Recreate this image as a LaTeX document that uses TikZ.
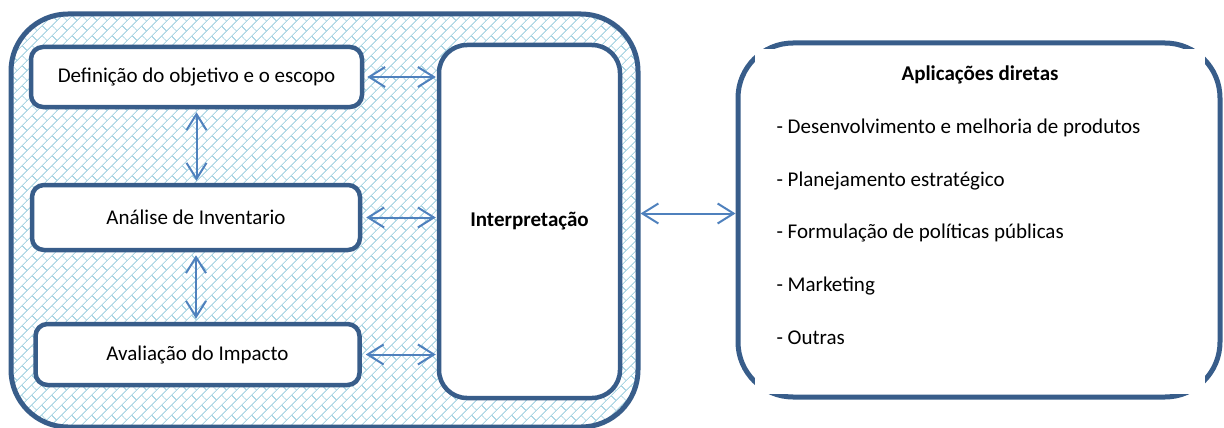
\documentclass[tikz,border=0pt]{standalone}
\usepackage{fontspec}
\setmainfont{Carlito}
\usetikzlibrary{arrows.meta, patterns.meta}

\definecolor{contorno}{RGB}{56,93,138}
\definecolor{seta}{RGB}{79,129,189}
\definecolor{trama}{RGB}{172,214,228}

% diagonal brick fill for the outer frame
\tikzdeclarepattern{
  name=tijolo,
  type=uncolored,
  bounding box={(0pt,0pt) and (14pt,14pt)},
  tile size={(14pt,14pt)},
  tile transformation={rotate=45},
  code={
    \draw[line width=1pt] (0pt,3.5pt) -- (14pt,3.5pt)
      (0pt,10.5pt) -- (14pt,10.5pt)
      (3.5pt,3.5pt) -- (3.5pt,10.5pt)
      (10.5pt,10.5pt) -- (10.5pt,14pt)
      (10.5pt,0pt) -- (10.5pt,3.5pt);
  }
}

\begin{document}
\begin{tikzpicture}[x=1pt, y=-1pt,
    font=\fontsize{21}{25}\selectfont,
    caixa/.style={draw=contorno, line width=4.5pt, fill=white, rounded corners=12pt, inner sep=0pt},
    dupla/.style={draw=seta, line width=2pt,
      {Straight Barb[length=16pt,width=20pt]}-{Straight Barb[length=16pt,width=20pt]}}]
    \useasboundingbox (0,0) rectangle (1224,428);

    \node[draw=contorno, line width=5pt, pattern=tijolo, pattern color=trama,
      rounded corners=57pt, minimum width=627pt, minimum height=413pt] (acv) at (324.5,220.5) {};

    \node[caixa, minimum width=331pt, minimum height=60pt] (objetivo) at (196.5,77) {Definição do objetivo e o escopo};
    \node[caixa, minimum width=328pt, minimum height=65pt] (inventario) at (196,217.5) {Análise de Inventario};
    \node[caixa, minimum width=324pt, minimum height=61pt] (impacto) at (197.5,354.5) {Avaliação do Impacto};
    \node[caixa, rounded corners=28pt, minimum width=181pt, minimum height=353pt,
      font=\fontsize{21}{25}\selectfont\bfseries] (interp) at (529.5,221.5) {Interpretação};

    % applications box, border broken at the corners
    \node[draw=contorno, line width=5pt, fill=white, rounded corners=55pt,
      minimum width=482pt, minimum height=354pt] (apps) at (979,220) {};
    \fill[white] (755,49) rectangle (1205,394);

    \node[font=\fontsize{21}{25}\selectfont\bfseries] (titulo) at (980,75) {Aplicações diretas};
    \node[anchor=west] (produtos) at (773,128) {- Desenvolvimento e melhoria de produtos};
    \node[anchor=west] (planejamento) at (773,181) {- Planejamento estratégico};
    \node[anchor=west] (politicas) at (773,233) {- Formulação de políticas públicas};
    \node[anchor=west] (marketing) at (773,286) {- Marketing};
    \node[anchor=west] (outras) at (773,338) {- Outras};

    \draw[dupla, shorten <=3pt, shorten >=1pt] (objetivo.east) -- (objetivo.east -| interp.west);
    \draw[dupla, shorten <=4pt, shorten >=1pt] (inventario.east) -- (inventario.east -| interp.west);
    \draw[dupla, shorten <=4pt, shorten >=1pt] (impacto.east) -- (impacto.east -| interp.west);
    \draw[dupla, shorten <=3pt, shorten >=2pt] (objetivo.south) -- (objetivo.south |- inventario.north);
    \draw[dupla, shorten <=3pt, shorten >=3pt] (inventario.south) -- (inventario.south |- impacto.north);
    \draw[dupla] ([yshift=8pt]interp.east -| acv.east) -- ([yshift=8pt]interp.east -| apps.west);
\end{tikzpicture}
\end{document}
